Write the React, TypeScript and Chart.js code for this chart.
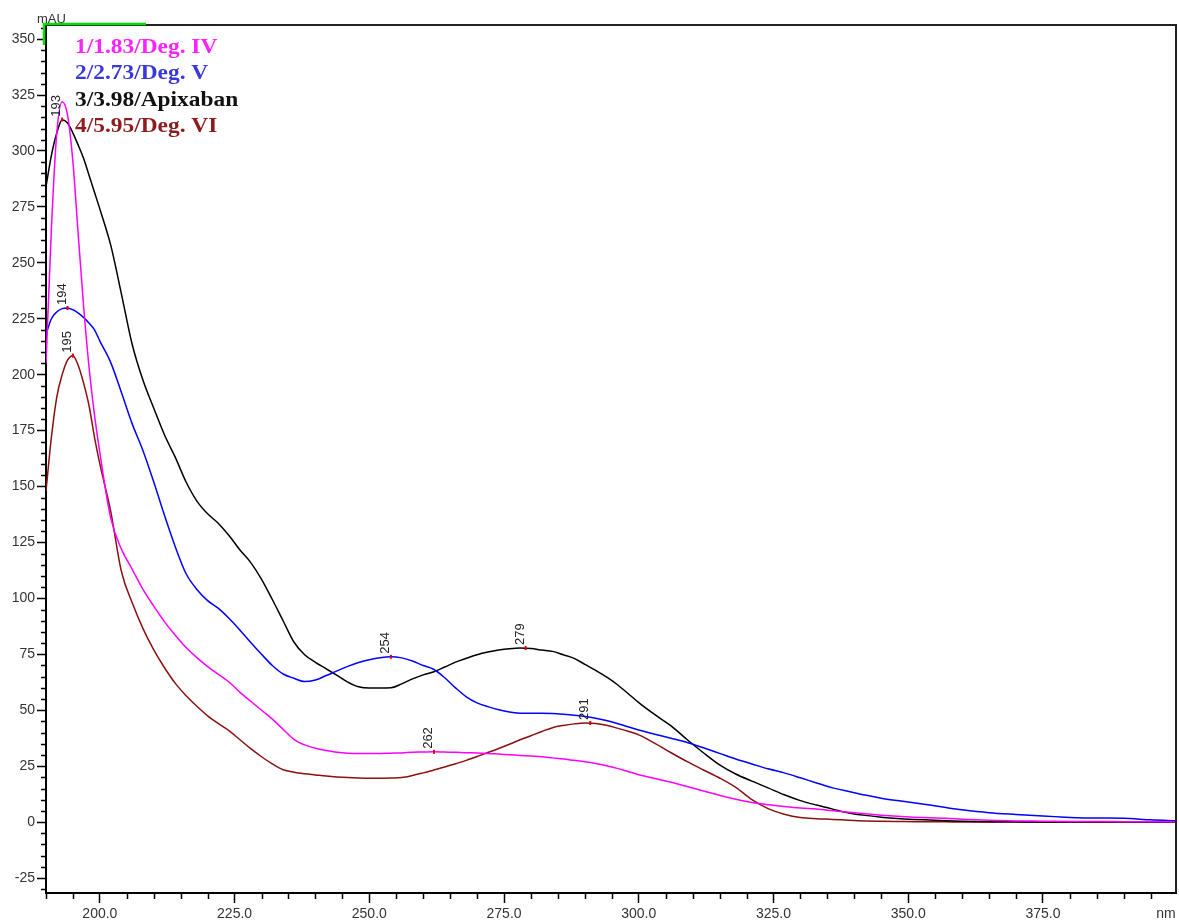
import React, { useEffect, useRef } from 'react';
import { Chart, registerables } from 'chart.js';

Chart.register(...registerables);

// Wavelength grid (nm)
const WAVELENGTHS = [
  190, 191, 192, 193, 194, 195, 196, 197, 198, 199,
  200, 202, 204, 206, 208, 210, 212, 214, 216, 218, 220, 222, 224, 226, 228, 230, 232, 234, 236, 238, 240,
  242, 244, 246, 248, 250, 252, 254, 256, 258, 260, 262, 264, 266, 268, 270, 272, 274, 276, 278, 280,
  282, 284, 286, 288, 290, 292, 294, 296, 298, 300,
  303, 306, 309, 312, 315, 318, 321, 324, 327, 330, 333, 336, 339, 342, 345, 348, 351, 354, 357, 360,
  365, 370, 375, 380, 385, 390, 395, 399.7,
];

// 1/1.83/Deg. IV (magenta)
const DEG_IV = [
  205, 265, 308, 322, 316, 295, 262, 230, 203, 182,
  165, 136, 122, 113, 104, 96.5, 89.5, 83.5, 78, 73.5, 69.5, 66, 62.5, 58, 54, 50, 46, 41.5, 37, 34.5, 33,
  32, 31.2, 30.8, 30.7, 30.7, 30.7, 30.8, 30.9, 31.2, 31.3, 31.4, 31.3, 31.2, 31, 30.9, 30.7, 30.4, 30.1, 29.8, 29.5,
  29.2, 28.7, 28.2, 27.6, 27, 26.2, 25.2, 24, 22.6, 21.2,
  19.5, 17.8, 15.9, 13.9, 12, 10.2, 8.8, 7.8, 7.0, 6.3, 5.8, 5.1, 4.4, 3.7, 3.1, 2.6, 2.2, 1.9, 1.7, 1.3,
  0.8, 0.5, 0.4, 0.3, 0.3, 0.2, 0.2, 0.2,
];

// 2/2.73/Deg. V (blue)
const DEG_V = [
  218, 225, 228, 229.5, 229.8, 229, 227.5, 225.5, 223, 220,
  215, 205.5, 192, 178, 166, 152, 137, 123, 111, 104, 99, 95.5, 91, 85.8, 80.3, 75, 70, 66.2, 64.3, 62.8, 63.5,
  65.5, 67.6, 69.6, 71.3, 72.6, 73.5, 73.9, 73.4, 72, 70, 68.2, 64.5, 60, 56, 53.3, 51.6, 50.2, 49.2, 48.7, 48.6,
  48.6, 48.5, 48.2, 47.8, 47.2, 46.4, 45.4, 44.1, 42.6, 41.2,
  39.3, 37.5, 35.6, 33.2, 30.7, 28.2, 26, 23.8, 22, 19.8, 17.5, 15.3, 13.7, 12.1, 10.7, 9.6, 8.6, 7.6, 6.5, 5.5,
  4.2, 3.4, 2.7, 2.1, 1.8, 1.7, 1.0, 0.6,
];

// 3/3.98/Apixaban (black)
const APIXABAN = [
  284, 298, 308, 314, 312.5, 308, 302.5, 296.5, 289, 281.5,
  274, 258, 236, 213.5, 197.5, 185, 173, 163, 152, 143.5, 137.8, 133.5, 128, 121.6, 116, 108.5, 99.5, 90, 80.5, 74.8, 71.4,
  68.5, 65.6, 62.6, 60.5, 59.9, 59.9, 60, 61.8, 64, 65.8, 67.2, 69.3, 71.5, 73.2, 74.8, 76, 76.9, 77.5, 77.8, 77.6,
  76.9, 76.3, 74.8, 73.2, 70.5, 67.8, 64.9, 61.5, 57.5, 53.4,
  48, 43, 36.8, 31, 25.6, 21.5, 18.3, 15.3, 12.2, 9.6, 7.6, 5.8, 4.1, 3.0, 2.2, 1.6, 1.2, 0.9, 0.6, 0.4,
  0.2, 0.1, 0, 0, 0, 0, 0, 0,
];

// 4/5.95/Deg. VI (dark red)
const DEG_VI = [
  148, 172, 190, 200, 206.5, 208.5, 204, 196, 186, 172,
  160, 139, 112, 98, 86.5, 77, 69, 62, 56.5, 51.8, 47.5, 44, 40.8, 36.8, 32.8, 29.2, 26, 23.4, 22.3, 21.6, 21.1,
  20.6, 20.2, 19.9, 19.7, 19.6, 19.6, 19.7, 19.9, 20.8, 22, 23.3, 24.6, 26.1, 27.6, 29.3, 31.1, 32.9, 34.8, 36.8, 38.6,
  40.5, 42.2, 43.2, 43.9, 44.3, 44.1, 43.3, 42, 40.6, 39,
  35.2, 31, 27, 23.3, 19.7, 15.5, 10, 6, 3.5, 2, 1.5, 1.2, 0.8, 0.5, 0.4, 0.3, 0.2, 0.1, 0.1, 0,
  0, 0, 0, 0, 0, 0, 0, 0,
];

const SERIES_NAMES = ['1/1.83/Deg. IV', '2/2.73/Deg. V', '3/3.98/Apixaban', '4/5.95/Deg. VI'];
const SERIES_COLORS = ['#ff00ff', '#0000ff', '#000000', '#8b1010'];
const LEGEND_COLORS = ['#ff22ff', '#3a3ad8', '#111111', '#8e1c1c'];

const X_MAJOR_TICKS = [200, 225, 250, 275, 300, 325, 350, 375];
const Y_MAJOR_TICKS = [-25, 0, 25, 50, 75, 100, 125, 150, 175, 200, 225, 250, 275, 300, 325, 350];

const PEAK_NM = [193, 194, 195, 254, 262, 279, 291];
const PEAK_VALUES = [314, 229.8, 208.5, 73.9, 31.4, 77.8, 44.3];
const PEAK_TEXT = ['193', '194', '195', '254', '262', '279', '291'];

const X_MIN = 190;
const X_MAX = 399.7;
const Y_MIN = -31.7;
const Y_MAX = 356.3;

export default function App() {
  const ref = useRef<HTMLCanvasElement>(null);

  useEffect(() => {
    const canvas = ref.current;
    if (!canvas) return;
    const toPoints = (vals: number[]) => WAVELENGTHS.map((x, i) => ({ x, y: vals[i] }));
    const allSeries = [DEG_IV, DEG_V, APIXABAN, DEG_VI];
    const sansFont = '"Liberation Sans", Arial, sans-serif';

    const overlay = {
      id: 'overlay',
      afterDraw(chart: any) {
        const ctx = chart.ctx as CanvasRenderingContext2D;
        const { left, right, top, bottom } = chart.chartArea;
        const xs = chart.scales.x;
        const ys = chart.scales.y;
        ctx.save();

        // frame top and right
        ctx.strokeStyle = '#222';
        ctx.lineWidth = 2;
        ctx.beginPath();
        ctx.moveTo(left, top);
        ctx.lineTo(right, top);
        ctx.lineTo(right, bottom);
        ctx.stroke();

        // minor ticks
        ctx.strokeStyle = '#000';
        ctx.lineWidth = 1.5;
        ctx.beginPath();
        for (let v = 190; v <= 399; v += 5) {
          if (v % 25 === 0) continue;
          const px = Math.round(xs.getPixelForValue(v)) + 0.5;
          ctx.moveTo(px, bottom);
          ctx.lineTo(px, bottom + 6);
        }
        for (let v = -30; v <= 355; v += 5) {
          if (v % 25 === 0) continue;
          const py = Math.round(ys.getPixelForValue(v)) + 0.5;
          ctx.moveTo(left - 5, py);
          ctx.lineTo(left, py);
        }
        ctx.stroke();

        // green marker on top-left of frame
        ctx.strokeStyle = '#00dd00';
        ctx.lineWidth = 2.5;
        ctx.beginPath();
        ctx.moveTo(left - 2, top + 20);
        ctx.lineTo(left - 2, top - 1);
        ctx.lineTo(left + 100, top - 1);
        ctx.stroke();

        // axis unit labels
        ctx.fillStyle = '#333';
        ctx.font = `13px ${sansFont}`;
        ctx.textAlign = 'left';
        ctx.textBaseline = 'middle';
        ctx.fillText('mAU', 37, 19);
        ctx.textAlign = 'center';
        ctx.font = `14px ${sansFont}`;
        ctx.fillText('nm', 1166, bottom + 21);

        // legend text
        ctx.font = 'bold 20px "Liberation Serif", "Times New Roman", serif';
        ctx.textAlign = 'left';
        ctx.textBaseline = 'middle';
        SERIES_NAMES.forEach((name, i) => {
          ctx.save();
          ctx.translate(left + 29, top + 23 + i * 26.3);
          ctx.scale(1.17, 1);
          ctx.fillStyle = LEGEND_COLORS[i];
          ctx.fillText(name, 0, 0);
          ctx.restore();
        });

        // peak labels
        PEAK_NM.forEach((nm, i) => {
          const px = xs.getPixelForValue(nm);
          const py = ys.getPixelForValue(PEAK_VALUES[i]);
          ctx.fillStyle = '#e00000';
          ctx.fillRect(px - 1, py - 2, 2, 4);
          ctx.save();
          ctx.translate(px + 1, py - 3);
          ctx.rotate(-Math.PI / 2);
          ctx.fillStyle = '#222';
          ctx.font = `13px ${sansFont}`;
          ctx.textAlign = 'left';
          ctx.textBaseline = 'bottom';
          ctx.fillText(PEAK_TEXT[i], 0, 0);
          ctx.restore();
        });

        ctx.restore();
      },
    };

    const chart = new Chart(canvas, {
      type: 'line',
      data: {
        datasets: allSeries.map((vals, i) => ({
          label: SERIES_NAMES[i],
          data: toPoints(vals),
          borderColor: SERIES_COLORS[i],
          backgroundColor: SERIES_COLORS[i],
          borderWidth: 1.5,
          pointRadius: 0,
          fill: false,
          cubicInterpolationMode: 'monotone' as const,
        })),
      },
      options: {
        responsive: false,
        animation: false,
        layout: { padding: { top: 25, right: 3, left: 0, bottom: 0 } },
        plugins: {
          legend: { display: false },
          tooltip: { enabled: false },
        },
        scales: {
          x: {
            type: 'linear',
            min: X_MIN,
            max: X_MAX,
            afterBuildTicks: (s: any) => {
              s.ticks = X_MAJOR_TICKS.map((v) => ({ value: v }));
            },
            afterFit: (s: any) => {
              s.height = 28;
            },
            ticks: {
              callback: (v: any) => Number(v).toFixed(1),
              font: { family: sansFont, size: 14 },
              color: '#333',
              padding: 3,
              maxRotation: 0,
              autoSkip: false,
            },
            grid: {
              drawOnChartArea: false,
              drawTicks: true,
              tickLength: 10,
              tickColor: '#000',
              tickWidth: 1.5,
            },
            border: { display: true, color: '#000', width: 2 },
          },
          y: {
            type: 'linear',
            min: Y_MIN,
            max: Y_MAX,
            afterBuildTicks: (s: any) => {
              s.ticks = Y_MAJOR_TICKS.map((v) => ({ value: v }));
            },
            afterFit: (s: any) => {
              s.width = 46;
            },
            ticks: {
              callback: (v: any) => String(v),
              font: { family: sansFont, size: 14 },
              color: '#333',
              padding: 2,
              autoSkip: false,
            },
            grid: {
              drawOnChartArea: false,
              drawTicks: true,
              tickLength: 9,
              tickColor: '#000',
              tickWidth: 1.5,
            },
            border: { display: true, color: '#000', width: 2 },
          },
        },
      },
      plugins: [overlay],
    } as any);

    return () => chart.destroy();
  }, []);

  return (
    <div style={{ position: 'absolute', left: 0, top: 0, width: 1179, height: 921, background: '#fff' }}>
      <canvas ref={ref} width={1179} height={921} style={{ display: 'block' }} />
    </div>
  );
}
